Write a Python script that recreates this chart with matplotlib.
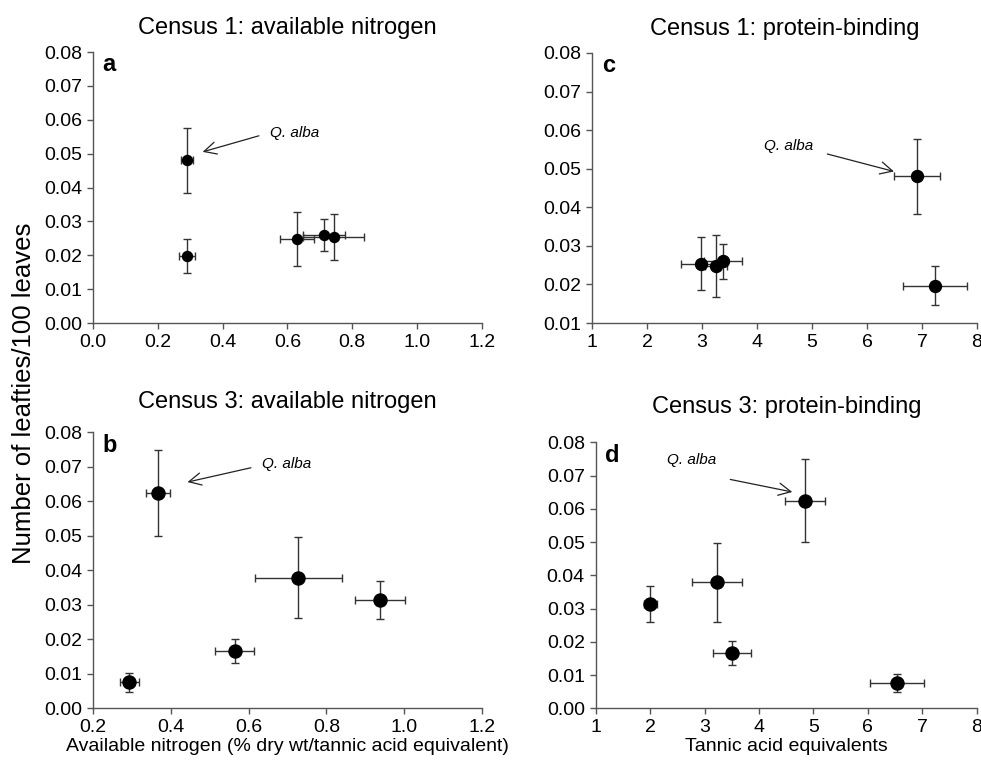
import matplotlib
matplotlib.use("Agg")
import matplotlib.pyplot as plt
import numpy as np

plt.rcParams['font.family'] = ['Liberation Sans', 'DejaVu Sans']

# census 1 (panels a, c)
c1_leafties = [0.0480, 0.0197, 0.0248, 0.0260, 0.0254]
c1_leafties_err = [0.0097, 0.0050, 0.0081, 0.0046, 0.0069]
c1_nitrogen = [0.291, 0.290, 0.629, 0.713, 0.742]
c1_nitrogen_err = [0.019, 0.025, 0.052, 0.065, 0.094]
c1_tannic = [6.91, 7.24, 3.26, 3.38, 2.98]
c1_tannic_err = [0.41, 0.58, 0.20, 0.35, 0.36]

# census 3 (panels b, d)
c3_leafties = [0.0625, 0.0379, 0.0314, 0.0166, 0.0075]
c3_leafties_err = [0.0125, 0.0118, 0.0054, 0.0036, 0.0027]
c3_nitrogen = [0.367, 0.728, 0.937, 0.564, 0.293]
c3_nitrogen_err = [0.031, 0.112, 0.064, 0.050, 0.024]
c3_tannic = [4.84, 3.23, 2.00, 3.51, 6.54]
c3_tannic_err = [0.365, 0.46, 0.12, 0.35, 0.50]

panels = [
    dict(pos=[0.0948, 0.581, 0.3965, 0.3515], x=c1_nitrogen, xerr=c1_nitrogen_err,
         y=c1_leafties, yerr=c1_leafties_err, letter='a', ms=7.2,
         title='Census 1: available nitrogen', xlim=(0, 1.2), xticks=np.arange(0, 1.21, 0.2),
         xfmt='{:.1f}', ylim=(0, 0.08), yticks=np.arange(0, 0.081, 0.01),
         txt=(0.546, 0.0562), tail=(0.52, 0.0555), head=(0.33, 0.0503), tpad=13),
    dict(pos=[0.6035, 0.581, 0.3924, 0.3503], x=c1_tannic, xerr=c1_tannic_err,
         y=c1_leafties, yerr=c1_leafties_err, letter='c', ms=8.6,
         title='Census 1: protein-binding', xlim=(1, 8), xticks=np.arange(1, 9),
         xfmt='{:.0f}', ylim=(0.01, 0.08), yticks=np.arange(0.01, 0.081, 0.01),
         txt=(4.12, 0.056), tail=(5.23, 0.054), head=(6.54, 0.0491), tpad=13),
    dict(pos=[0.0948, 0.0813, 0.3965, 0.358], x=c3_nitrogen, xerr=c3_nitrogen_err,
         y=c3_leafties, yerr=c3_leafties_err, letter='b', ms=9.4,
         title='Census 3: available nitrogen', xlim=(0.2, 1.2), xticks=np.arange(0.2, 1.21, 0.2),
         xfmt='{:.1f}', ylim=(0, 0.08), yticks=np.arange(0, 0.081, 0.01),
         txt=(0.634, 0.0708), tail=(0.613, 0.0699), head=(0.436, 0.0654), tpad=17.5,
         xlabel='Available nitrogen (% dry wt/tannic acid equivalent)'),
    dict(pos=[0.6075, 0.0813, 0.388, 0.345], x=c3_tannic, xerr=c3_tannic_err,
         y=c3_leafties, yerr=c3_leafties_err, letter='d', ms=9.4,
         title='Census 3: protein-binding', xlim=(1, 8), xticks=np.arange(1, 9),
         xfmt='{:.0f}', ylim=(0, 0.08), yticks=np.arange(0, 0.081, 0.01),
         txt=(2.30, 0.0747), tail=(3.42, 0.069), head=(4.66, 0.0649), tpad=21,
         xlabel='Tannic acid equivalents'),
]

fig = plt.figure(figsize=(9.81, 7.71), dpi=100)

for p in panels:
    ax = fig.add_axes(p['pos'])
    ax.errorbar(p['x'], p['y'], xerr=p['xerr'], yerr=p['yerr'], fmt='o',
                color='black', ecolor='#333333', elinewidth=1.0, capsize=3,
                capthick=1.0, markersize=p['ms'])
    ax.set_xlim(*p['xlim'])
    ax.set_ylim(*p['ylim'])
    ax.set_xticks(p['xticks'])
    ax.set_xticklabels([p['xfmt'].format(v) for v in p['xticks']])
    ax.set_yticks(p['yticks'])
    ax.set_yticklabels(['{:.2f}'.format(v) for v in p['yticks']])
    for s in ['top', 'right']:
        ax.spines[s].set_visible(False)
    for s in ['left', 'bottom']:
        ax.spines[s].set_color('#555555')
        ax.spines[s].set_linewidth(1.0)
    ax.tick_params(direction='out', length=4, width=1, color='#555555',
                   labelsize=14, pad=4)
    ax.set_title(p['title'], fontsize=17, pad=p['tpad'])
    ax.text(0.025, 0.995, p['letter'], transform=ax.transAxes, va='top', ha='left',
            fontsize=17, fontweight='bold')
    ax.text(p['txt'][0], p['txt'][1], 'Q. alba', fontstyle='italic', fontsize=11,
            va='center', ha='left')
    ax.annotate('', xy=p['head'], xytext=p['tail'],
                arrowprops=dict(arrowstyle='->', color='#222222', lw=0.9,
                                mutation_scale=22))
    if 'xlabel' in p:
        ax.set_xlabel(p['xlabel'], fontsize=14, labelpad=1)

fig.text(0.024, 0.49, 'Number of leafties/100 leaves', rotation=90, va='center',
         ha='center', fontsize=18.5)

fig.savefig('out.png', dpi=100)
